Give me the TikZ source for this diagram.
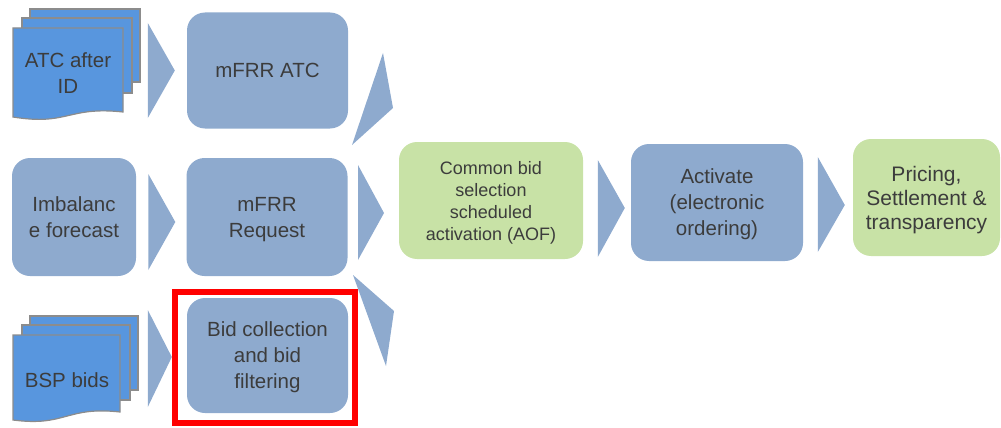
\documentclass[tikz,border=0pt]{standalone}
\usepackage{fontspec}
\setmainfont{Liberation Sans}
\usetikzlibrary{positioning}

\definecolor{boxblue}{RGB}{142,170,206}
\definecolor{docblue}{RGB}{88,150,222}
\definecolor{boxgreen}{RGB}{200,226,166}
\definecolor{textgray}{RGB}{60,60,60}

\begin{document}
\begin{tikzpicture}[x=1pt, y=-1pt,
    stepbox/.style={rounded corners=18pt, fill=boxblue, align=center, text=textgray,
        minimum width=161pt, minimum height=116pt, inner sep=0pt, text depth=-5pt,
        font=\fontsize{20.5}{26}\selectfont},
    greenbox/.style={stepbox, fill=boxgreen, text depth=-8pt},
    page/.style={fill=docblue, draw=black!45, line width=1.2pt},
    doctext/.style={align=center, text=textgray, font=\fontsize{20.5}{26.5}\selectfont},
    chev/.style={fill=boxblue},
    redframe/.style={draw=red, line width=6pt, minimum width=180pt, minimum height=131pt}
]
\useasboundingbox (0,0) rectangle (1001,428);

% ATC after ID (stack of pages)
\foreach \l/\t/\b in {30/9/82, 22/18/93} {
    \draw[page] (\l,\t) rectangle (\l+110,\b);
}
\draw[page] (13,28) -- (123,28) -- (123,112) .. controls (68,106) and (68,126) .. (13,117) -- cycle;
\node[doctext] (atcdoc) at (68,73) {ATC after\\ID};

% BSP bids (stack of pages)
\foreach \l/\t/\b in {30/316/390, 22/325/400} {
    \draw[page] (\l,\t) rectangle (\l+108,\b);
}
\draw[page] (13,335) -- (120,335) -- (120,412) .. controls (66,406) and (66,427) .. (13,420) -- cycle;
\node[doctext] (bspdoc) at (67,380) {BSP bids};

% Left column and middle column
\node[stepbox, minimum width=124pt, minimum height=118pt] (imb) at (74,217) {Imbalanc\\e forecast};
\node[stepbox] (atc) at (267.5,70.5) {mFRR ATC};
\node[stepbox, minimum height=118pt] (req) at (267,217) {mFRR\\Request};
\node[stepbox, minimum height=115pt] (bid) at (267.5,355.5) {Bid collection\\and bid\\filtering};
\node[redframe] (focus) at (265,357.5) {};

% Right row
\node[greenbox, minimum width=184pt, minimum height=117pt,
      font=\fontsize{18}{22}\selectfont] (aof) at (491,200.5)
      {Common bid\\selection\\scheduled\\activation (AOF)};
\node[stepbox, minimum width=172pt, minimum height=117pt] (act) at (717,202.5)
      {Activate\\(electronic\\ordering)};
\node[greenbox, minimum width=147pt, minimum height=117pt,
      font=\fontsize{21}{24}\selectfont] (price) at (926.5,197.5)
      {Pricing,\\Settlement \&\\transparency};

% chevrons between steps
\fill[chev] ([xshift=-39pt,yshift=47.5pt]atc.west) -- ([xshift=-12pt]atc.west)
    -- ([xshift=-39pt,yshift=-47.5pt]atc.west) -- cycle;
\fill[chev] ([xshift=-38pt,yshift=43pt]req.west) -- ([xshift=-11pt,yshift=-5pt]req.west)
    -- ([xshift=-38pt,yshift=-53pt]req.west) -- cycle;
\fill[chev] ([xshift=-39pt,yshift=45.5pt]bid.west) -- ([xshift=-15pt,yshift=-1.5pt]bid.west)
    -- ([xshift=-39pt,yshift=-51.5pt]bid.west) -- cycle;
\fill[chev] ([xshift=-33pt,yshift=42.5pt]act.west) -- ([xshift=-6pt,yshift=-5.5pt]act.west)
    -- ([xshift=-33pt,yshift=-54.5pt]act.west) -- cycle;
\fill[chev] ([xshift=-35pt,yshift=40.5pt]price.west) -- ([xshift=-8pt,yshift=-7.5pt]price.west)
    -- ([xshift=-35pt,yshift=-54.5pt]price.west) -- cycle;

% converging into common bid selection
\fill[chev] (383,53) -- (393,108) -- (352,145) -- cycle;
\fill[chev] (358,165) -- (384,213) -- (358,260) -- cycle;
\fill[chev] (353,275) -- (394,311) -- (386,366) -- cycle;

\end{tikzpicture}
\end{document}
